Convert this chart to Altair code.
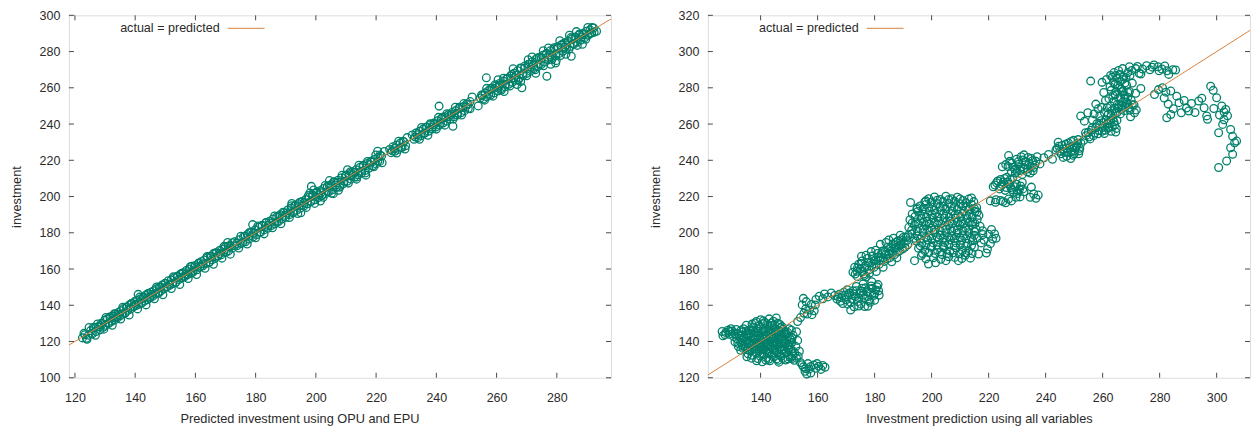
import altair as alt
import pandas as pd

# ---------------- data ----------------
LEFT_PTS = [
    (122.5,122.0),(123.0,124.5),(123.8,121.8),(124.5,123.5),(125.2,126.0),(125.8,124.2),(126.5,127.8),(127.0,125.5),
    (127.8,128.2),(128.3,126.4),(128.8,130.1),(129.4,127.9),(129.9,131.8),(130.2,129.0),(130.8,132.5),(131.3,130.0),
    (131.7,133.6),(132.2,131.2),(132.6,134.0),(133.1,131.9),(133.5,135.2),(134.0,133.0),(134.4,136.0),(134.9,134.1),
    (135.3,137.0),(135.8,135.0),(136.2,138.2),(136.7,135.8),(137.1,139.0),(137.6,137.2),(138.0,140.1),(138.5,137.9),
    (138.9,141.0),(139.4,139.3),(139.8,142.0),(140.3,139.8),(140.7,142.6),(141.0,146.0),(141.2,140.5),(141.7,143.5),
    (142.1,141.4),(142.6,144.2),(143.0,142.3),(143.5,145.6),(144.0,143.0),(144.4,146.4),(144.9,144.0),(145.3,147.2),
    (145.8,144.9),(146.2,148.0),(146.7,146.2),(147.1,149.1),(147.6,147.0),(148.0,150.0),(148.5,147.8),(149.0,151.2),
    (149.5,149.0),(150.0,152.0),(150.5,150.1),(151.0,153.5),(151.5,151.0),(152.0,154.0),(152.5,152.0),(153.0,155.2),
    (153.5,152.8),(154.0,156.0),(154.5,154.2),(155.0,157.1),(155.5,155.0),(156.0,157.9),(156.5,155.8),(157.0,159.2),
    (157.5,157.0),(158.0,160.0),(158.5,157.6),(158.8,161.5),(159.3,158.8),(160.0,162.0),(160.5,159.6),(161.0,163.0),
    (161.5,161.0),(162.0,164.2),(162.5,161.8),(163.0,165.0),(163.5,163.0),(164.0,166.3),(164.5,163.8),(165.0,167.0),
    (165.5,165.1),(166.0,168.5),(166.5,165.9),(167.0,169.0),(167.5,167.2),(168.0,170.2),(168.5,167.8),(169.0,171.0),
    (169.5,169.2),(170.0,172.3),(170.7,174.6),(171.0,170.0),(171.5,173.0),(172.2,171.5),(173.0,175.0),(173.8,172.8),
    (174.5,176.2),(175.2,174.0),(176.0,177.8),(176.6,175.0),(177.2,179.0),(177.8,176.6),(178.4,180.2),(179.0,184.5),
    (179.2,177.8),(179.8,181.5),(180.4,179.0),(181.0,183.0),(181.6,180.2),(182.2,184.2),(182.8,181.6),(183.4,185.5),
    (184.0,182.5),(184.6,186.4),(185.2,184.0),(185.8,187.6),(186.4,185.0),(187.0,188.8),(187.6,186.2),(188.2,190.0),
    (188.8,187.6),(189.4,191.0),(190.0,188.5),(190.6,192.5),(191.2,190.0),(191.8,193.6),(192.4,191.0),(193.0,195.0),
    (193.6,192.4),(194.2,196.0),(194.8,193.5),(195.4,197.2),(196.0,194.8),(196.6,198.4),(197.2,196.0),(197.8,199.6),
    (198.5,205.6),(198.4,197.2),(199.0,200.8),(199.6,198.2),(200.2,202.0),(200.8,199.4),(201.4,203.2),(202.0,200.5),
    (202.6,204.4),(203.2,201.6),(203.8,205.6),(204.4,202.8),(205.0,206.6),(205.6,203.8),(206.2,208.0),(206.8,205.0),
    (207.4,209.0),(208.0,206.2),(208.6,210.4),(209.2,207.2),(209.8,211.4),(210.4,208.4),(211.0,212.6),(211.6,209.6),
    (212.2,213.6),(212.8,210.8),(213.4,214.8),(214.0,212.0),(214.6,216.0),(215.2,213.0),(215.8,217.0),(216.6,211.8),
    (216.4,214.4),(217.0,218.2),(217.6,215.6),(218.2,219.4),(218.8,216.8),(219.4,220.4),(220.0,218.0),(220.5,225.0),
    (220.6,221.5),(221.2,219.4),(221.8,222.4),(224.5,226.0),(225.0,224.2),(225.6,227.5),(226.2,225.0),(226.8,228.4),
    (227.4,226.0),(228.0,229.5),(228.6,227.0),(229.2,230.2),(229.8,228.0),(232.0,234.0),(232.6,231.6),(233.2,235.0),
    (233.8,232.5),(234.4,236.0),(235.0,233.6),(235.6,237.2),(236.2,235.0),(236.8,238.4),(237.4,236.0),(238.0,239.6),
    (238.6,237.2),(239.2,240.6),(239.8,238.4),(240.4,241.8),(240.9,249.9),(241.0,239.4),(241.6,243.0),(242.2,240.6),
    (242.8,244.0),(243.4,241.6),(244.0,245.2),(244.6,242.8),(245.2,246.4),(245.5,238.8),(245.8,244.0),(246.4,247.4),
    (247.0,245.0),(247.6,248.6),(248.2,246.2),(248.8,249.6),(249.4,247.4),(250.0,251.0),(250.6,248.6),(251.2,252.4),
    (253.9,250.0),(255.0,256.0),(255.6,253.8),(256.2,257.2),(256.6,265.5),(256.8,255.0),(257.4,258.6),(258.0,256.0),
    (258.6,259.8),(259.2,257.2),(259.8,261.0),(260.4,258.2),(261.0,262.4),(261.6,259.6),(262.2,263.8),(262.8,260.6),
    (263.4,265.0),(264.0,262.0),(264.6,266.6),(265.2,263.0),(265.8,268.0),(266.4,264.2),(267.0,269.4),(267.6,265.4),
    (268.2,270.8),(268.4,260.0),(268.8,266.8),(269.4,272.0),(270.0,268.0),(270.6,273.0),(271.2,269.2),(271.8,274.4),
    (272.4,270.6),(273.0,275.6),(273.6,271.6),(274.2,276.8),(274.8,272.8),(275.4,278.0),(276.0,274.2),(276.7,266.4),
    (276.6,279.0),(277.2,275.4),(277.8,280.4),(278.4,276.6),(279.0,281.4),(279.6,273.7),(279.6,277.8),(280.2,282.6),
    (280.8,279.0),(281.4,283.6),(282.0,280.2),(282.6,284.8),(283.2,281.4),(283.8,285.8),(284.4,282.8),(284.8,277.4),
    (285.0,287.0),(285.6,284.0),(286.2,288.0),(286.8,285.2),(287.4,289.2),(288.0,286.4),(288.6,290.0),(289.2,287.6),
    (289.8,291.2),(290.4,289.0),(291.0,292.0),(291.6,290.2),(292.2,293.0),(293.2,291.2),
    # second pass over the band
    (123.3,123.7),(124.0,121.2),(124.7,127.7),(125.4,124.4),(126.1,127.7),(126.8,123.4),(127.5,129.7),(128.2,128.0),
    (128.9,129.3),(129.6,126.8),(130.3,133.3),(131.0,130.0),(131.7,133.3),(132.4,129.0),(133.1,135.3),(133.8,133.6),
    (134.5,134.9),(135.2,132.4),(135.9,138.9),(136.6,135.6),(137.3,138.9),(138.0,134.6),(138.7,140.9),(139.4,139.2),
    (140.1,140.5),(140.8,138.0),(141.5,144.5),(142.2,141.2),(142.9,144.5),(143.6,140.2),(144.3,146.5),(145.0,144.8),
    (145.7,146.1),(146.4,143.6),(147.1,150.1),(147.8,146.8),(148.5,150.1),(149.2,145.8),(149.9,152.1),(150.6,150.4),
    (151.3,151.7),(152.0,149.2),(152.7,155.7),(153.4,152.4),(154.1,155.7),(154.8,151.4),(155.5,157.7),(156.2,156.0),
    (156.9,157.3),(157.6,154.8),(158.3,161.3),(159.0,158.0),(159.7,161.3),(160.4,157.0),(161.1,163.3),(161.8,161.6),
    (162.5,162.9),(163.2,160.4),(163.9,166.9),(164.6,163.6),(165.3,166.9),(166.0,162.6),(166.7,168.9),(167.4,167.2),
    (168.1,168.5),(168.8,166.0),(169.5,172.5),(170.2,169.2),(170.9,172.5),(171.6,168.2),(172.3,174.5),(173.0,172.8),
    (173.7,174.1),(174.4,171.6),(175.1,178.1),(175.8,174.8),(176.5,178.1),(177.2,173.8),(177.9,180.1),(178.6,178.4),
    (179.3,179.7),(180.0,177.2),(180.7,183.7),(181.4,180.4),(182.1,183.7),(182.8,179.4),(183.5,185.7),(184.2,184.0),
    (184.9,185.3),(185.6,182.8),(186.3,189.3),(187.0,186.0),(187.7,189.3),(188.4,185.0),(189.1,191.3),(189.8,189.6),
    (190.5,190.9),(191.2,188.4),(191.9,194.9),(192.6,191.6),(193.3,194.9),(194.0,190.6),(194.7,196.9),(195.4,195.2),
    (196.1,196.5),(196.8,194.0),(197.5,200.5),(198.2,197.2),(198.9,200.5),(199.6,196.2),(200.3,202.5),(201.0,200.8),
    (201.7,202.1),(202.4,199.6),(203.1,206.1),(203.8,202.8),(204.5,206.1),(205.2,201.8),(205.9,208.1),(206.6,206.4),
    (207.3,207.7),(208.0,205.2),(208.7,211.7),(209.4,208.4),(210.1,211.7),(210.8,207.4),(211.5,213.7),(212.2,212.0),
    (212.9,213.3),(213.6,210.8),(214.3,217.3),(215.0,214.0),(215.7,217.3),(216.4,213.0),(217.1,219.3),(217.8,217.6),
    (218.5,218.9),(219.2,216.4),(219.9,222.9),(220.6,219.6),(221.3,222.9),(222.0,218.6),(222.7,224.9),(225.4,225.2),
    (226.1,226.5),(226.8,224.0),(227.5,230.5),(228.2,227.2),(228.9,230.5),(229.6,226.2),(230.3,232.5),(233.0,232.8),
    (233.7,234.1),(234.4,231.6),(235.1,238.1),(235.8,234.8),(236.5,238.1),(237.2,233.8),(237.9,240.1),(238.6,238.4),
    (239.3,239.7),(240.0,237.2),(240.7,243.7),(241.4,240.4),(242.1,243.7),(242.8,239.4),(243.5,245.7),(244.2,244.0),
    (244.9,245.3),(245.6,242.8),(246.3,249.3),(247.0,246.0),(247.7,249.3),(248.4,245.0),(249.1,251.3),(249.8,249.6),
    (250.5,250.9),(251.2,248.4),(251.9,254.9),(254.6,254.4),(255.3,255.7),(256.0,253.2),(256.7,259.7),(257.4,256.4),
    (258.1,259.7),(258.8,255.4),(259.5,261.7),(260.2,260.0),(260.9,261.3),(261.6,258.8),(262.3,265.3),(263.0,262.0),
    (263.7,265.3),(264.4,261.0),(265.1,267.3),(265.8,265.6),(266.5,266.9),(267.2,264.4),(267.9,270.9),(268.6,267.6),
    (269.3,270.9),(270.0,266.6),(270.7,272.9),(271.4,271.2),(272.1,272.5),(272.8,270.0),(273.5,276.5),(274.2,273.2),
    (274.9,276.5),(275.6,272.2),(276.3,278.5),(277.0,276.8),(277.7,278.1),(278.4,275.6),(279.1,282.1),(279.8,278.8),
    (280.5,282.1),(281.2,277.8),(281.9,284.1),(282.6,282.4),(283.3,283.7),(284.0,281.2),(284.7,287.7),(285.4,284.4),
    (286.1,287.7),(286.8,283.4),(287.5,289.7),(288.2,288.0),(288.9,289.3),(289.6,286.8),(290.3,293.3),(291.0,290.0),
    (291.7,293.3),(292.4,290.6),
    # wider spread spots
    (262.5,258.0),(265.5,270.5),(268.0,263.5),(270.5,275.5),(273.0,268.0),(275.5,280.5),(278.0,273.0),(281.0,286.0),
    (283.0,278.5),(286.5,291.0),(288.5,284.0),(260.5,264.5),(266.8,261.8),(271.8,277.0),(277.2,282.0),(279.8,275.0),
    (284.2,289.0),(192.0,196.2),(195.0,191.0),(198.0,202.0),(201.5,197.5),(204.5,208.8),(207.5,203.5),(210.5,214.8),
    (213.5,209.6),(199.3,203.6),(205.8,201.6),
]

RIGHT_PTS = [
    # lower-left cluster
    (126.5,145.5),(127.5,143.8),(128.5,146.2),(129.0,144.0),(130.0,145.8),(130.5,142.8),(131.5,146.6),(132.0,144.5),
    (126.8,143.2),(129.6,147.0),
    (138.5,151.0),(140.0,152.0),(141.5,150.5),(143.0,152.5),(144.5,151.2),(146.0,150.0),(142.5,149.0),(139.5,148.6),
    (147.5,148.2),(145.5,153.0),
    (137.0,149.6),(140.8,149.8),(144.0,148.8),(146.8,149.4),
    (134.0,147.0),(136.0,146.2),(137.5,147.8),(139.0,145.6),(141.0,147.2),(142.8,146.0),(144.6,147.6),(146.4,146.0),
    (148.0,146.8),(149.5,145.0),(150.8,146.2),(135.2,144.4),
    (133.6,145.2),(136.6,144.6),(138.2,145.0),(140.0,144.8),(141.8,145.4),(143.6,144.6),(145.2,145.6),(147.2,145.0),
    (149.0,144.2),
    (132.5,143.0),(134.2,142.2),(135.8,143.6),(137.4,142.0),(139.0,143.4),(140.6,142.2),(142.2,143.8),(143.8,142.4),
    (145.4,144.0),(147.0,142.6),(148.6,143.8),(150.2,142.0),(151.4,143.4),(133.4,140.6),
    (134.8,141.0),(136.4,140.6),(138.0,141.4),(139.6,140.8),(141.2,141.2),(142.8,140.6),(144.4,141.6),(146.0,140.8),
    (147.6,141.4),(149.2,140.6),(150.6,141.0),
    (132.0,139.0),(133.6,138.0),(135.2,139.8),(136.8,138.2),(138.4,139.6),(140.0,138.0),(141.6,139.8),(143.2,138.4),
    (144.8,140.0),(146.4,138.6),(148.0,140.2),(149.6,138.2),(151.0,139.4),
    (134.0,137.4),(135.6,137.0),(137.2,137.6),(138.8,137.0),(140.4,137.2),(142.0,137.6),(143.6,137.0),(145.2,137.6),
    (146.8,137.0),(148.4,137.4),(150.0,136.8),
    (133.0,135.2),(134.6,136.4),(136.2,134.8),(137.8,136.0),(139.4,134.6),(141.0,136.2),(142.6,134.4),(144.2,136.0),
    (145.8,134.2),(147.4,135.6),(149.0,134.0),(150.6,135.4),(152.0,133.6),
    (135.6,133.2),(138.4,133.6),(140.6,133.4),(143.0,133.2),(144.8,133.6),(146.6,132.8),(148.2,133.4),(149.8,132.6),
    (151.2,132.0),
    (137.0,132.4),(139.8,132.0),(142.0,131.0),(144.0,132.6),(145.6,130.4),(147.2,131.8),(148.8,129.8),(150.4,131.2),
    (151.8,129.6),(146.4,128.6),(143.2,129.4),
    (153.2,131.8),(154.0,128.4),(155.0,126.0),(155.6,123.6),(156.2,122.0),(157.0,124.8),(157.6,122.6),(158.6,127.0),
    (159.4,125.2),(160.4,126.4),(161.2,124.6),(162.6,125.8),(156.6,127.8),(153.6,134.6),(152.4,137.2),(153.0,140.6),
    (152.6,145.4),
    (135.0,149.0),(138.0,150.2),(141.0,151.4),(143.8,150.2),(145.0,149.0),
    (133.0,146.0),(135.0,145.8),(137.0,146.4),(139.0,147.0),(141.0,145.9),(143.0,147.0),(145.0,146.6),(147.0,147.6),
    (148.6,145.4),(150.0,147.0),
    (131.6,141.6),(133.2,143.6),(135.0,142.4),(136.6,143.0),(138.2,142.6),(139.8,142.0),(141.4,143.0),(143.0,141.8),
    (144.6,142.8),(146.2,142.2),(147.8,142.8),(149.4,142.2),(151.0,142.0),
    (133.0,139.6),(134.6,138.8),(136.2,139.2),(137.8,138.8),(139.4,138.6),(141.0,139.0),(142.6,138.8),(144.2,139.0),
    (145.8,139.4),(147.4,139.0),(149.0,139.2),(150.4,138.0),
    (133.8,136.2),(135.4,135.6),(137.0,135.4),(138.6,135.8),(140.2,135.6),(141.8,135.2),(143.4,135.8),(145.0,135.2),
    (146.6,135.8),(148.2,135.0),(149.8,135.6),(151.4,134.6),
    (139.0,130.6),(141.0,132.8),(142.8,130.2),(144.6,131.4),(146.2,129.6),(147.8,130.6),(149.6,130.4),(151.0,130.6),
    (152.6,130.8),(154.6,127.2),(155.8,125.0),(157.6,126.2),(159.8,127.8),(161.8,126.8),
    (127.8,145.0),(129.4,145.6),(131.0,144.2),(131.0,139.8),(132.2,137.2),(135.2,131.6),(136.8,130.8),(138.6,129.4),
    (140.6,128.8),(141.8,129.8),
    # small tuft around 155-166
    (153.0,151.0),(154.0,153.2),(155.2,155.6),(155.8,158.0),(156.4,155.2),(157.2,157.4),(158.0,154.8),(157.8,160.4),
    (156.0,162.0),(154.6,160.2),(158.8,157.0),(159.4,163.2),(160.6,165.0),(161.8,163.6),(162.4,166.2),(163.6,164.6),
    (164.8,166.8),(166.0,165.4),(159.2,160.2),(155.0,163.8),
    # cluster 166-182
    (166.8,163.4),(167.6,166.0),(168.4,164.2),(169.2,167.2),(170.0,163.0),(170.8,165.8),(171.6,161.6),(171.6,157.4),
    (172.4,168.0),(173.2,164.8),(174.0,162.0),(174.8,166.6),(175.6,169.4),(176.4,164.0),(176.5,159.3),(177.2,167.4),
    (178.0,162.6),(178.8,170.6),(179.6,165.4),(180.4,168.4),(181.2,171.4),(180.0,162.8),(177.6,159.4),(175.2,160.6),
    (173.6,170.4),(181.6,165.6),(172.8,159.2),(168.8,161.0),(176.0,171.8),(179.0,173.0),
    (167.2,164.6),(168.0,162.2),(169.6,165.6),(170.4,168.6),(171.2,166.8),(172.0,163.4),(172.8,166.2),(173.6,168.0),
    (174.4,164.2),(175.2,167.8),(176.0,165.6),(176.8,169.6),(177.6,164.8),(178.4,167.2),(179.2,169.4),(180.0,166.2),
    (180.8,170.2),(181.4,168.0),(178.4,161.6),(174.4,159.6),(170.6,160.6),
    # cluster 172-192
    (172.4,178.2),(173.0,181.0),(173.8,178.8),(174.4,182.6),(175.0,180.0),(175.6,184.4),(176.2,177.2),(176.8,182.0),
    (177.4,185.8),(178.0,179.6),(178.6,183.4),(179.2,187.2),(179.8,181.0),(180.4,185.0),(181.0,188.6),(181.6,182.6),
    (182.2,186.4),(182.8,190.0),(183.4,184.2),(184.0,188.0),(184.6,192.0),(185.2,186.2),(185.8,190.0),(186.4,193.8),
    (187.0,188.0),(187.6,191.8),(188.2,195.6),(188.8,190.0),(189.4,193.6),(190.0,197.4),(190.6,192.0),(191.2,195.6),
    (191.8,198.6),(183.0,181.0),(180.6,178.6),(186.0,184.0),(177.0,175.6),(174.0,175.8),(189.0,198.6),(185.0,196.0),
    (182.0,193.6),(178.8,189.6),(175.4,187.0),(187.8,186.2),
    (173.2,177.2),(174.0,180.6),(175.2,183.0),(175.8,178.6),(176.6,180.6),(177.6,183.6),(178.2,177.6),(179.0,181.4),
    (179.8,184.6),(180.4,182.8),(181.2,186.6),(181.8,184.6),(182.4,188.6),(183.0,186.2),(183.8,189.6),(184.4,185.6),
    (185.0,188.6),(185.6,192.0),(186.2,188.4),(186.8,191.6),(187.4,194.6),(188.0,189.4),(188.6,192.8),(189.2,196.0),
    (189.8,191.0),(190.4,194.4),(191.0,197.6),(191.6,193.4),(184.0,194.6),(186.6,197.0),(180.4,190.4),(177.0,187.6),
    (176.4,176.4),
    # big cluster 192-218
    (199.0,218.8),(201.0,219.8),(203.0,218.4),(205.0,220.2),(207.0,218.8),(209.0,219.6),(211.0,217.8),(213.0,218.6),
    (214.8,217.2),(197.6,217.0),(192.6,216.7),
    (196.0,214.8),(198.0,215.6),(200.0,214.2),(202.0,216.0),(204.0,214.6),(206.0,216.2),(208.0,214.4),(210.0,216.0),
    (212.0,214.2),(214.0,215.6),(215.8,214.0),(194.8,213.0),
    (193.2,210.4),(195.2,211.8),(197.2,210.2),(199.2,212.0),(201.2,210.6),(203.2,212.2),(205.2,210.4),(207.2,212.0),
    (209.2,210.2),(211.2,211.8),(213.2,210.4),(215.2,211.8),(216.6,209.6),
    (192.4,207.2),(194.4,206.0),(196.4,207.8),(198.4,206.2),(200.4,208.0),(202.4,206.4),(204.4,208.2),(206.4,206.4),
    (208.4,208.0),(210.4,206.2),(212.4,207.8),(214.4,206.0),(216.0,207.4),
    (192.0,203.0),(194.0,204.2),(196.0,202.4),(198.0,204.0),(200.0,202.6),(202.0,204.4),(204.0,202.6),(206.0,204.2),
    (208.0,202.4),(210.0,204.0),(212.0,202.6),(214.0,204.2),(215.6,202.0),(217.9,201.1),
    (193.0,199.4),(195.0,198.2),(197.0,200.0),(199.0,198.4),(201.0,200.2),(203.0,198.6),(205.0,200.0),(207.0,198.2),
    (209.0,199.8),(211.0,198.4),(213.0,200.0),(215.0,198.6),
    (194.6,195.4),(196.6,194.2),(198.6,196.0),(200.6,194.4),(202.6,196.2),(204.6,194.6),(206.6,196.0),(208.6,194.4),
    (210.6,195.8),(212.6,194.2),(214.4,195.6),
    (195.4,191.4),(197.6,190.2),(199.8,192.0),(202.0,190.6),(204.2,191.8),(206.4,190.0),(208.6,191.6),(210.8,190.2),
    (213.0,190.0),(215.0,192.0),
    (194.0,184.6),(196.4,187.4),(198.9,182.8),(200.6,186.2),(201.4,183.4),(203.6,188.0),(206.0,186.8),(208.1,186.4),
    (209.4,184.6),(211.8,187.6),(216.5,188.3),(213.6,186.0),
    (218.4,196.0),(220.0,199.2),(221.0,201.8),(222.1,199.3),(219.6,191.0),(217.4,194.4),(222.6,197.0),
    (198.0,217.6),(200.0,217.0),(202.0,218.0),(204.0,217.2),(206.0,218.4),(208.0,217.4),(210.0,218.6),(212.0,216.6),
    (214.0,219.2),
    (195.0,213.8),(197.0,213.0),(199.0,214.0),(201.0,212.6),(203.0,214.2),(205.0,213.2),(207.0,214.6),(209.0,213.0),
    (211.0,214.8),(213.0,213.0),(215.0,213.4),
    (194.2,209.0),(196.2,209.6),(198.2,208.6),(200.2,210.0),(202.2,208.8),(204.2,210.2),(206.2,208.6),(208.2,210.0),
    (210.2,208.8),(212.2,209.8),(214.2,208.6),(216.0,211.4),
    (193.2,205.4),(195.2,205.0),(197.2,205.8),(199.2,205.0),(201.2,205.6),(203.2,205.0),(205.2,206.0),(207.2,205.2),
    (209.2,206.0),(211.2,205.0),(213.2,205.6),(215.2,205.0),
    (193.0,201.4),(195.0,201.0),(197.0,202.0),(199.0,201.4),(201.0,201.8),(203.0,201.2),(205.0,202.0),(207.0,201.0),
    (209.0,201.6),(211.0,201.2),(213.0,202.0),(215.0,200.6),(217.0,203.6),
    (194.0,197.0),(196.0,196.6),(198.0,197.4),(200.0,197.0),(202.0,197.6),(204.0,197.0),(206.0,197.6),(208.0,196.8),
    (210.0,197.2),(212.0,196.8),(214.0,197.4),(216.0,197.0),
    (196.0,192.8),(198.0,193.4),(200.0,192.6),(202.0,193.2),(204.0,192.8),(206.0,193.4),(208.0,192.8),(210.0,193.4),
    (212.0,192.6),(214.0,193.0),
    (196.8,188.6),(199.0,189.0),(201.2,188.6),(203.2,189.4),(205.4,188.4),(207.6,189.0),(209.8,188.4),(212.0,189.0),
    (214.2,188.6),
    (198.0,185.6),(203.2,185.4),(205.0,184.6),(210.6,185.8),(219.2,188.8),(220.6,194.0),(218.0,199.0),(221.4,196.6),
    # cluster 220-238
    (226.0,237.6),(227.4,239.4),(228.6,236.2),(229.8,240.6),(230.6,237.8),(231.4,242.0),(232.2,235.4),(233.0,239.2),
    (233.8,241.6),(234.6,236.6),(235.4,239.8),(236.2,237.4),(237.0,242.0),(228.0,233.6),(230.0,234.0),(231.8,232.2),
    (233.6,233.6),(235.6,234.2),(232.4,243.0),(227.0,242.6),(224.8,236.4),
    (221.6,225.4),(222.8,227.6),(223.8,224.2),(224.8,226.6),(225.8,223.4),(226.8,228.0),(227.8,225.0),(228.8,222.4),
    (229.8,226.8),(230.8,224.0),(231.8,227.8),(232.4,222.6),(226.4,230.6),(228.4,230.0),(224.2,229.4),(220.6,217.6),
    (222.4,216.8),(224.2,217.8),(226.0,216.6),(228.0,217.6),(229.6,219.6),(231.0,219.8),(230.0,221.6),(234.6,219.6),
    (235.8,221.4),(236.6,219.0),(237.4,220.8),(235.0,225.2),
    (226.8,236.6),(228.2,238.4),(229.2,235.0),(230.4,239.2),(231.2,236.2),(232.0,240.2),(232.8,237.4),(233.6,235.2),
    (234.2,238.4),(235.0,241.0),(235.8,236.0),(236.6,239.4),(229.4,233.0),(231.0,234.4),(234.6,233.0),
    (222.2,226.4),(223.2,228.6),(224.2,225.6),(225.2,228.0),(226.2,225.0),(227.2,226.8),(228.2,223.8),(229.2,225.4),
    (230.2,223.0),(231.2,225.8),(232.0,224.2),(225.6,230.0),(227.6,229.4),(222.6,218.2),(225.0,217.2),(227.0,218.6),
    (238.0,238.0),(239.4,241.4),(241.0,243.2),(242.4,240.6),
    # cluster 243-253
    (243.6,245.6),(244.6,247.8),(245.4,243.6),(246.2,246.2),(247.0,248.8),(247.6,244.2),(248.4,246.8),(249.0,250.4),
    (249.6,242.8),(250.2,245.4),(250.8,248.2),(251.4,251.4),(252.0,246.6),(252.4,249.4),(246.2,241.6),(248.8,241.0),
    (244.4,250.0),(251.6,243.6),
    (244.0,246.6),(245.0,245.0),(245.8,248.2),(246.6,244.4),(247.4,246.8),(248.0,249.6),(248.8,244.6),(249.4,247.6),
    (250.0,243.6),(250.6,246.8),(251.2,249.4),(251.8,245.2),(247.4,242.2),(249.8,251.0),
    # rising cluster 253-285
    (253.4,251.0),(254.2,253.6),(255.0,255.4),(255.6,251.8),(256.4,258.0),(257.2,255.0),(258.0,260.2),(258.6,256.4),
    (259.4,261.8),(260.0,258.0),(260.6,254.8),(261.2,262.4),(261.8,257.6),(262.4,260.4),(263.0,256.0),(263.6,263.2),
    (264.2,259.4),(264.6,255.6),(265.0,262.0),(262.0,265.4),(263.2,267.4),(264.4,266.0),(265.4,268.8),(266.2,265.6),
    (266.8,270.4),(267.6,267.4),(268.4,272.0),(269.2,269.0),(270.0,273.2),(271.0,270.6),(271.8,267.8),(262.8,270.0),
    (264.0,272.6),(265.2,271.0),(266.4,274.4),(267.6,276.0),(268.8,274.8),(263.6,275.8),(264.8,278.0),(266.0,280.0),
    (267.2,278.4),(268.4,281.4),(269.4,278.0),(262.6,280.6),(263.8,283.0),(265.0,285.2),(266.2,283.6),(267.4,286.0),
    (261.4,284.6),(262.8,286.8),(264.0,288.4),(265.6,289.6),(267.0,290.6),(268.8,288.4),(270.2,289.6),(271.6,290.6),
    (272.8,288.0),(274.0,290.4),(275.4,292.2),(276.6,290.0),(278.0,292.6),(279.4,291.6),(280.8,290.4),(281.8,292.0),
    (282.6,289.4),(283.2,287.4),(284.6,290.0),(273.4,279.6),(271.6,277.0),(270.4,282.6),(259.8,283.0),(260.4,277.4),
    (261.0,273.0),(258.4,268.4),(257.0,265.6),(256.4,262.2),(255.8,283.7),(252.3,264.4),(253.6,261.6),(254.8,266.2),
    (257.6,271.0),(259.6,269.2),(269.8,264.0),(271.2,266.2),
    (254.0,255.2),(255.2,252.8),(256.0,256.6),(256.8,253.6),(257.6,258.0),(258.4,254.6),(259.0,259.4),(259.8,256.0),
    (260.4,260.8),(261.0,256.6),(261.6,260.0),(262.2,258.2),(262.8,262.0),(263.4,258.6),(264.0,261.2),(264.8,257.6),
    (263.0,264.6),(264.2,268.6),(265.0,266.2),(265.8,270.6),(266.6,268.2),(267.2,272.4),(268.0,269.6),(268.8,271.0),
    (269.6,267.6),(270.4,270.6),(264.4,276.2),(265.6,274.4),(266.8,277.8),(267.8,274.0),(268.8,277.6),(265.4,281.4),
    (266.6,279.2),(267.8,282.6),(264.4,282.0),(263.4,285.8),(264.6,286.8),(266.0,287.4),(267.0,284.6),(268.2,285.6),
    (269.6,286.8),(263.0,278.6),(262.2,274.0),(261.6,269.0),(260.6,266.4),(259.0,264.6),(269.4,291.6),(272.2,291.8),
    (273.4,287.6),(277.4,291.4),(279.8,289.4),
    # falling arc 278-307
    (278.2,276.3),(279.6,279.0),(281.0,280.0),(282.2,277.6),(283.9,278.2),(281.6,274.4),(283.0,271.0),(282.5,263.5),
    (283.9,265.3),(284.8,268.4),(286.0,275.4),(286.8,271.8),(287.6,266.2),(288.6,273.0),(289.4,268.8),(290.2,267.2),
    (291.2,271.4),(292.4,266.4),(293.7,272.7),(294.8,274.2),(295.6,269.0),(296.5,264.5),(296.8,262.6),(297.9,280.9),
    (298.8,278.6),(299.0,268.6),(300.0,274.5),(301.0,265.0),(301.8,270.0),(302.6,266.6),(303.2,268.0),(302.6,262.4),
    (303.8,264.6),(300.7,255.2),(302.1,259.8),(304.9,257.0),(305.6,253.2),(306.3,249.7),(307.0,250.6),(304.9,246.9),
    (305.6,243.3),(303.5,239.6),(300.7,236.0),(285.6,289.8),
]

LEFT_X_TICKS = [120, 140, 160, 180, 200, 220, 240, 260, 280]
LEFT_Y_TICKS = [100, 120, 140, 160, 180, 200, 220, 240, 260, 280, 300]
RIGHT_X_TICKS = [140, 160, 180, 200, 220, 240, 260, 280, 300]
RIGHT_Y_TICKS = [120, 140, 160, 180, 200, 220, 240, 260, 280, 300, 320]
LEFT_X_DOMAIN = [118, 298]
LEFT_Y_DOMAIN = [100, 300]
RIGHT_X_DOMAIN = [121.5, 311.7]
RIGHT_Y_DOMAIN = [120, 320]
LEFT_XTITLE = "Predicted investment using OPU and EPU"
RIGHT_XTITLE = "Investment prediction using all variables"
Y_TITLE = "investment"
LEGEND_LABEL = "actual = predicted"

# ---------------- styling ----------------
W, H = 543, 363
PT_COLOR = "#00806a"
LINE_COLOR = "#d9823b"
FRAME = "#4a4a4a"
TXT = "#2b2b2b"
FONT = "Liberation Sans"
TICK_LEN = 5


def panel(pts, xdom, ydom, xticks, yticks, xtitle, title_x=None):
    xs = alt.Scale(domain=xdom, nice=False, zero=False)
    ys = alt.Scale(domain=ydom, nice=False, zero=False)
    xax_kw = dict(values=xticks, ticks=False, tickSize=0, domain=False, grid=False,
                  labelPadding=14, labelFlush=False, labelOverlap=False,
                  labelFont=FONT, labelFontSize=12.5, labelColor=TXT,
                  title=xtitle, titlePadding=8, titleFont=FONT, titleFontSize=12.8,
                  titleFontWeight="normal", titleColor=TXT)
    if title_x is not None:
        xax_kw["titleX"] = title_x
    xax = alt.Axis(**xax_kw)
    yax = alt.Axis(values=yticks, ticks=False, tickSize=0, domain=False, grid=False,
                   labelPadding=9, labelFlush=False, labelOverlap=False,
                   labelFont=FONT, labelFontSize=12.5, labelColor=TXT,
                   title=Y_TITLE, titlePadding=16, titleFont=FONT, titleFontSize=12.8,
                   titleFontWeight="normal", titleColor=TXT)

    df = pd.DataFrame(pts, columns=["pred", "actual"])
    points = alt.Chart(df).mark_point(
        shape="circle", filled=False, size=60, strokeWidth=1.3, color=PT_COLOR, opacity=1
    ).encode(
        x=alt.X("pred:Q", scale=xs, axis=xax),
        y=alt.Y("actual:Q", scale=ys, axis=yax),
    )

    diag = alt.Chart(pd.DataFrame({"pred": xdom, "actual": xdom})).mark_line(
        color=LINE_COLOR, strokeWidth=1, clip=True
    ).encode(
        x=alt.X("pred:Q", scale=xs, axis=xax),
        y=alt.Y("actual:Q", scale=ys, axis=yax),
    )

    xdf = pd.DataFrame({"pred": xticks})
    ydf = pd.DataFrame({"actual": yticks})
    tick_bottom = alt.Chart(xdf).mark_rule(color=FRAME, strokeWidth=1).encode(
        x=alt.X("pred:Q", scale=xs, axis=xax), y=alt.value(H), y2=alt.value(H - TICK_LEN))
    tick_top = alt.Chart(xdf).mark_rule(color=FRAME, strokeWidth=1).encode(
        x=alt.X("pred:Q", scale=xs, axis=xax), y=alt.value(0), y2=alt.value(TICK_LEN))
    tick_left = alt.Chart(ydf).mark_rule(color=FRAME, strokeWidth=1).encode(
        y=alt.Y("actual:Q", scale=ys, axis=yax), x=alt.value(0), x2=alt.value(TICK_LEN))
    tick_right = alt.Chart(ydf).mark_rule(color=FRAME, strokeWidth=1).encode(
        y=alt.Y("actual:Q", scale=ys, axis=yax), x=alt.value(W - TICK_LEN), x2=alt.value(W))

    leg_df = pd.DataFrame({"label": [LEGEND_LABEL]})
    leg_text = alt.Chart(leg_df).mark_text(
        align="right", baseline="middle", font=FONT, fontSize=12.6, color=TXT
    ).encode(x=alt.value(151), y=alt.value(13), text="label:N")
    leg_line = alt.Chart(leg_df).mark_rule(color=LINE_COLOR, strokeWidth=1).encode(
        x=alt.value(159), x2=alt.value(196), y=alt.value(13))

    return alt.layer(
        points, diag, tick_bottom, tick_top, tick_left, tick_right, leg_text, leg_line
    ).properties(width=W, height=H)


left = panel(LEFT_PTS, LEFT_X_DOMAIN, LEFT_Y_DOMAIN, LEFT_X_TICKS, LEFT_Y_TICKS,
             LEFT_XTITLE, title_x=231)
right = panel(RIGHT_PTS, RIGHT_X_DOMAIN, RIGHT_Y_DOMAIN, RIGHT_X_TICKS, RIGHT_Y_TICKS,
              RIGHT_XTITLE)

chart = alt.hconcat(left, right, spacing=36).properties(
    padding={"left": 1, "top": 0, "right": 0, "bottom": 0}
).configure_view(
    stroke=FRAME, strokeWidth=1.2
).configure(background="white")

chart.save("out.html", embed_options={"renderer": "svg", "actions": False})
